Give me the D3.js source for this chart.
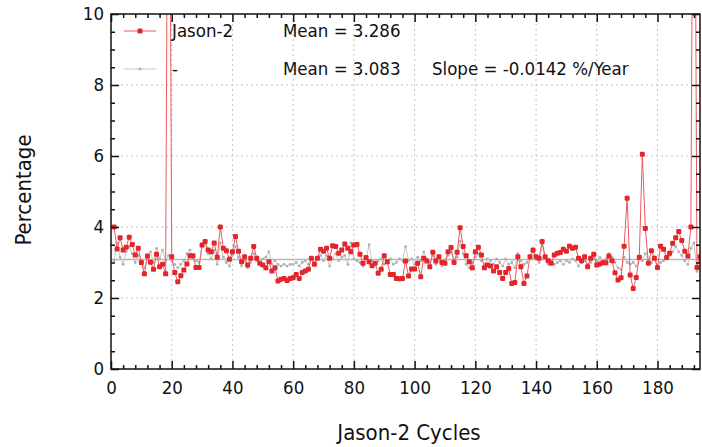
<!DOCTYPE html>
<html>
<head>
<meta charset="utf-8">
<script src="https://cdn.jsdelivr.net/npm/d3@7"></script>
<style>
  body { margin: 0; background: #fff; }
  text { font-family: "DejaVu Sans Condensed", "DejaVu Sans", sans-serif; font-stretch: condensed; fill: #111; }
</style>
</head>
<body>
<script>
// values, one per Jason-2 cycle starting at cycle 1
var red = [
  4.0, 3.38, 3.7, 3.35, 3.43, 3.71, 3.51, 3.21, 3.4, 3.0,
  2.68, 3.18, 3.01, 2.81, 3.23, 2.88, 2.95, 2.68, 21.0, 3.16,
  2.72, 2.46, 2.63, 2.79, 2.96, 3.19, 3.19, 2.86, 2.86, 3.49,
  3.59, 3.35, 3.3, 3.55, 3.15, 4.0, 3.4, 3.33, 3.09, 3.3,
  3.73, 3.32, 3.02, 3.16, 2.93, 3.12, 3.45, 3.12, 2.98, 2.93,
  2.85, 3.02, 2.76, 2.85, 2.48, 2.53, 2.55, 2.49, 2.55, 2.57,
  2.66, 2.55, 2.72, 2.76, 2.81, 3.12, 2.95, 3.12, 3.37, 3.32,
  3.4, 3.12, 3.47, 3.45, 3.26, 3.35, 3.52, 3.4, 3.3, 3.49,
  3.51, 3.23, 2.98, 3.14, 3.02, 2.91, 2.98, 2.7, 2.81, 3.19,
  3.02, 2.66, 2.66, 2.55, 2.54, 2.55, 3.04, 2.62, 2.82, 2.82,
  2.98, 2.6, 3.12, 3.04, 2.88, 3.29, 3.04, 3.16, 3.0, 2.98,
  3.3, 3.42, 3.0, 3.29, 3.98, 3.45, 3.19, 3.02, 2.85, 3.3,
  3.43, 3.21, 2.85, 2.93, 2.9, 2.76, 2.88, 2.72, 2.55, 2.72,
  2.83, 2.41, 2.44, 3.16, 2.88, 2.41, 2.62, 3.16, 3.35, 3.16,
  3.12, 3.59, 3.16, 3.05, 2.98, 3.21, 3.26, 3.28, 3.37, 3.32,
  3.46, 3.4, 3.43, 3.12, 3.05, 3.16, 2.88, 3.12, 3.23, 2.93,
  2.96, 2.99, 2.99, 3.18, 3.05, 2.71, 2.51, 2.57, 3.46, 4.81,
  2.65, 2.27, 2.58, 3.15, 6.05, 3.96, 2.98, 3.33, 3.12, 2.86,
  3.46, 3.37, 3.14, 3.26, 3.54, 3.7, 3.87, 3.62, 3.32, 3.18,
  4.0, 21.0, 2.86, 3.16
];

var gray = [
  3.05, 3.55, 3.15, 2.95, 3.30, 3.45, 3.25, 3.00, 3.20, 3.05,
  2.85, 3.15, 3.30, 3.00, 3.40, 3.10, 3.35, 3.05, 3.20, 3.05,
  2.95, 2.85, 2.95, 3.05, 3.25, 3.35, 3.10, 3.05, 3.00, 3.45,
  3.55, 3.25, 3.10, 3.35, 2.95, 3.55, 3.15, 3.00, 2.90, 3.20,
  3.45, 3.15, 2.90, 3.05, 2.85, 3.00, 3.25, 3.05, 3.00, 3.10,
  3.15, 3.30, 2.95, 3.05, 2.95, 2.90, 2.95, 2.90, 2.95, 2.95,
  3.00, 2.90, 3.00, 3.05, 2.95, 3.10, 3.00, 3.15, 3.20, 3.05,
  3.20, 2.90, 3.10, 3.25, 3.05, 3.15, 3.20, 2.95, 3.55, 3.10,
  3.05, 3.00, 2.90, 3.10, 3.50, 3.05, 3.00, 3.05, 3.10, 2.95,
  3.00, 3.10, 2.95, 3.00, 3.10, 3.05, 3.45, 3.05, 3.10, 2.95,
  3.15, 3.05, 3.30, 3.10, 3.00, 3.20, 2.95, 3.10, 2.90, 3.05,
  3.20, 3.30, 3.05, 3.15, 3.60, 3.25, 2.95, 2.85, 3.00, 3.15,
  3.25, 3.05, 2.95, 3.10, 3.05, 2.95, 3.10, 3.00, 2.90, 3.10,
  2.95, 3.00, 2.85, 3.25, 3.05, 2.95, 3.00, 3.20, 3.30, 3.10,
  3.00, 3.50, 3.10, 2.95, 3.05, 2.95, 3.00, 3.05, 2.95, 3.05,
  3.00, 3.10, 3.05, 2.90, 3.00, 3.05, 2.95, 3.00, 3.10, 3.05,
  3.15, 3.05, 3.10, 3.25, 3.15, 3.00, 2.85, 2.80, 3.15, 3.00,
  2.95, 3.00, 2.90, 3.10, 3.05, 3.25, 3.05, 3.00, 3.15, 2.90,
  3.00, 3.05, 3.10, 3.20, 3.30, 3.45, 3.30, 3.20, 3.05, 2.95,
  3.40, 3.55, 2.75, 2.85
];

var cycles = d3.range(1, red.length + 1);
var xTicks = [0, 20, 40, 60, 80, 100, 120, 140, 160, 180];
var yTicks = [0, 2, 4, 6, 8, 10];
var redLabel = 'Jason-2', grayLabel = '-';
var redMean = 3.286, grayMean = 3.083, graySlope = -0.0142;

var width = 702, height = 447;
var pL = 111, pR = 700, pT = 14, pB = 369;

var svg = d3.select('body').append('svg')
  .attr('width', width).attr('height', height);

var x = d3.scaleLinear().domain([0, 194]).range([pL, pR]);
var y = d3.scaleLinear().domain([0, 10]).range([pB, pT]);

svg.append('defs').append('clipPath').attr('id', 'plot')
  .append('rect').attr('x', pL).attr('y', pT)
  .attr('width', pR - pL).attr('height', pB - pT);

// dotted grid
var grid = svg.append('g').attr('stroke', '#c4c4c4').attr('stroke-dasharray', '2,3');
grid.selectAll('.gx').data(xTicks.slice(1)).enter().append('line')
  .attr('x1', d => x(d)).attr('x2', d => x(d)).attr('y1', pT).attr('y2', pB);
grid.selectAll('.gy').data(yTicks.slice(1, -1)).enter().append('line')
  .attr('x1', pL).attr('x2', pR).attr('y1', d => y(d)).attr('y2', d => y(d));

var plot = svg.append('g').attr('clip-path', 'url(#plot)');

// fitted line for the gray series
plot.append('line')
  .attr('x1', x(0)).attr('x2', x(194))
  .attr('y1', y(grayMean)).attr('y2', y(grayMean))
  .attr('stroke', '#b8b8b8').attr('stroke-width', 1.5);

var line = d3.line().x((d, i) => x(cycles[i])).y(d => y(d));

plot.append('path').datum(gray)
  .attr('d', line).attr('fill', 'none')
  .attr('stroke', '#c6c6c6').attr('stroke-width', 1);
plot.selectAll('.gp').data(gray).enter().append('circle')
  .attr('cx', (d, i) => x(cycles[i])).attr('cy', d => y(d))
  .attr('r', 1.4).attr('fill', '#b0b0b0');

plot.append('path').datum(red)
  .attr('d', line).attr('fill', 'none')
  .attr('stroke', '#ea5a5e').attr('stroke-width', 1);
plot.selectAll('.rp').data(red).enter().append('rect')
  .attr('x', (d, i) => x(cycles[i]) - 2.5).attr('y', d => y(d) - 2.5)
  .attr('width', 5).attr('height', 5).attr('rx', 1.2)
  .attr('fill', '#e3262b');

// axes with inward ticks, minor ticks every 4 cycles and every 0.5 %
var xMinor = d3.range(0, 195, 4).filter(d => d % 20 !== 0);
var yMinor = d3.range(0, 10.01, 0.5).filter(d => d % 2 !== 0);

function axisPair(axisFn, scale, major, minor, tf, shift) {
  var g = svg.append('g').attr('transform', shift);
  g.append('g').call(axisFn(scale).tickValues(minor).tickSize(-4).tickFormat(''));
  g.append('g').call(axisFn(scale).tickValues(major).tickSize(-8).tickPadding(12).tickFormat(tf));
  g.selectAll('.domain').remove();
  g.selectAll('line').attr('stroke', '#111').attr('stroke-width', 1.5);
  g.selectAll('g').attr('font-family', null);
  g.selectAll('text').attr('font-size', 18.5);
  return g;
}
axisPair(d3.axisBottom, x, xTicks, xMinor, d3.format('d'), 'translate(0,' + pB + ')');
axisPair(d3.axisTop, x, xTicks, xMinor, () => '', 'translate(0,' + pT + ')');
axisPair(d3.axisLeft, y, yTicks, yMinor, d3.format('d'), 'translate(' + pL + ',0)')
  .selectAll('text').attr('x', -7);
axisPair(d3.axisRight, y, yTicks, yMinor, () => '', 'translate(' + pR + ',0)');

svg.append('rect')
  .attr('x', pL).attr('y', pT).attr('width', pR - pL).attr('height', pB - pT)
  .attr('fill', 'none').attr('stroke', '#111').attr('stroke-width', 1.5);

// axis titles
svg.append('text').attr('x', 409).attr('y', 440).attr('text-anchor', 'middle')
  .attr('font-size', 22).text('Jason-2 Cycles');
svg.append('text').attr('transform', 'translate(31,190) rotate(-90)')
  .attr('text-anchor', 'middle').attr('font-size', 22).text('Percentage');

// legend
var legend = svg.append('g');
legend.append('line').attr('x1', 124).attr('x2', 156).attr('y1', 31).attr('y2', 31)
  .attr('stroke', '#ea5a5e').attr('stroke-width', 1);
legend.append('rect').attr('x', 137.5).attr('y', 28.5).attr('width', 5).attr('height', 5)
  .attr('rx', 1.2).attr('fill', '#e3262b');
legend.append('line').attr('x1', 124).attr('x2', 156).attr('y1', 69).attr('y2', 69)
  .attr('stroke', '#c6c6c6').attr('stroke-width', 1);
legend.append('circle').attr('cx', 140).attr('cy', 69).attr('r', 1.4).attr('fill', '#b0b0b0');

var legendRows = [
  [redLabel, 'Mean = ' + redMean.toFixed(3), ''],
  [grayLabel, 'Mean = ' + grayMean.toFixed(3), 'Slope = ' + graySlope.toFixed(4) + ' %/Year']
];
var colX = [172, 283, 432];
legendRows.forEach(function(row, r) {
  row.forEach(function(t, c) {
    legend.append('text').attr('x', colX[c]).attr('y', 31 + r * 38).attr('dy', '0.35em')
      .attr('font-size', 18.5).text(t);
  });
});
</script>
</body>
</html>
